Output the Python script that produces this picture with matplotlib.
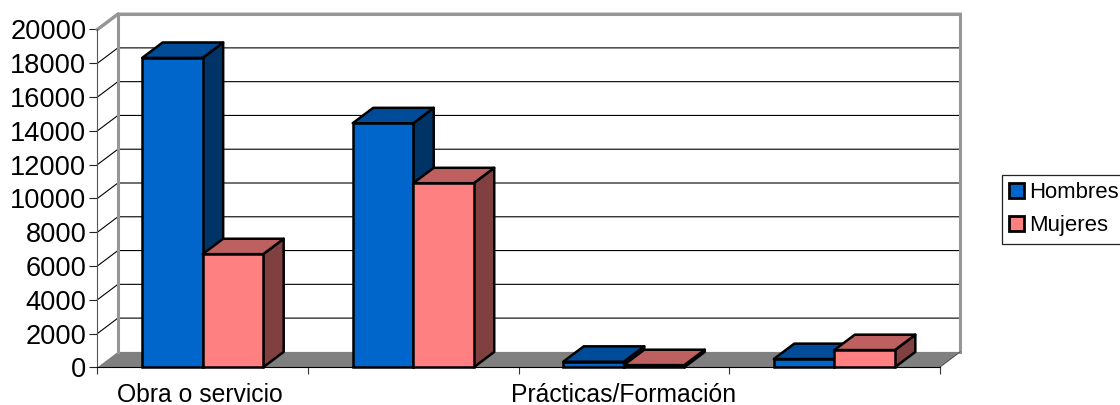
import matplotlib
matplotlib.use("Agg")
import matplotlib.pyplot as plt
from matplotlib.patches import Patch, Polygon
from matplotlib.lines import Line2D
from matplotlib.transforms import Affine2D

plt.rcParams['font.family'] = ['Liberation Sans', 'DejaVu Sans']

categories = ["Obra o servicio", "", "Prácticas/Formación", ""]
hombres = [18320, 14450, 330, 490]
mujeres = [6700, 10900, 130, 1020]
yticks = [0, 2000, 4000, 6000, 8000, 10000, 12000, 14000, 16000, 18000, 20000]
series_names = ["Hombres", "Mujeres"]

W, H = 1120, 405
fig = plt.figure(figsize=(W / 100, H / 100), dpi=100)
L, R, T, B = 97.4, 939.6, 29.5, 367.3
ax = fig.add_axes([L / W, 1 - B / H, (R - L) / W, (B - T) / H])
ax.set_xlim(0, len(categories))
ax.set_ylim(0, yticks[-1])

# Pseudo-3D depth, in data units
DX = 20.5 / ((R - L) / len(categories))
DY = 15.4 / ((B - T) / yticks[-1])
BW = 0.2874

ymax = yticks[-1]
n = len(categories)
wall = '#969696'
# floor
ax.add_patch(Polygon([(0, 0), (n, 0), (n + DX, DY), (DX, DY)], closed=True, fc='#808080',
                     ec='none', clip_on=False, zorder=1))
# grid
for v in yticks[1:]:
    ax.add_line(Line2D([0, DX, n + DX], [v, v + DY, v + DY], color='black' if v != ymax else wall,
                       lw=0.8 if v != ymax else 2.2, clip_on=False, zorder=1.5))
# walls
ax.add_line(Line2D([DX, DX, n + DX, n + DX], [DY, ymax + DY, ymax + DY, DY],
                   color=wall, lw=2.2, clip_on=False, zorder=1.6, solid_joinstyle='miter'))
ax.add_line(Line2D([n + DX, n], [DY, 0], color='#555555', lw=0.8, clip_on=False, zorder=1.7))
ax.add_line(Line2D([0, DX], [ymax, ymax + DY], color=wall, lw=2.2, clip_on=False, zorder=1.7))


def bar3d(x, v, front, top, side, z):
    ec = 'black'
    lw = 1.8
    ax.add_patch(Polygon([(x + BW, 0), (x + BW + DX, DY), (x + BW + DX, v + DY), (x + BW, v)],
                         closed=True, fc=side, ec=ec, lw=lw, clip_on=False, zorder=z,
                         joinstyle='round'))
    ax.add_patch(Polygon([(x, v), (x + BW, v), (x + BW + DX, v + DY), (x + DX, v + DY)],
                         closed=True, fc=top, ec=ec, lw=lw, clip_on=False, zorder=z,
                         joinstyle='round'))
    ax.bar(x, v, width=BW, align='edge', color=front, edgecolor=ec, linewidth=lw,
           clip_on=False, zorder=z + 0.1)


C_H = ('#0066CC', '#004C99', '#003366')
C_M = ('#FF8080', '#BF6060', '#804040')
for i in range(n):
    bar3d(i + 0.5 - BW, hombres[i], *C_H, 3 + i * 2)
    bar3d(i + 0.5, mujeres[i], *C_M, 4 + i * 2)

# axes furniture
for s in ('top', 'right'):
    ax.spines[s].set_visible(False)
ax.spines['left'].set_color('#555555')
ax.spines['left'].set_linewidth(0.8)
ax.spines['left'].set_zorder(2)
ax.spines['bottom'].set_color('black')
ax.spines['bottom'].set_linewidth(0.8)
ax.spines['bottom'].set_zorder(2)
ax.patch.set_alpha(0)

ax.set_yticks(yticks)
ax.set_yticklabels([str(v) for v in yticks], fontsize=19.6)
ax.tick_params(axis='y', length=5.5, width=0.8, pad=2.5, color='#222222')
ax.set_xticks(range(n + 1))
ax.set_xticklabels([''] * (n + 1))
ax.tick_params(axis='x', which='major', length=5, width=0.8, color='#333333')
ax.set_xticks([i + 0.5 for i in range(n)], minor=True)
ax.set_xticklabels(categories, minor=True, fontsize=17.85)
ax.tick_params(axis='x', which='minor', length=0, pad=11)
ax.get_xticklabels(minor=True)[0].set_transform(
    ax.get_xticklabels(minor=True)[0].get_transform() + Affine2D().translate(-3, 0))

handles = [Patch(fc=C_H[0], ec='black', lw=2), Patch(fc=C_M[0], ec='black', lw=2)]
leg = fig.legend(handles, series_names, loc='upper left',
                 bbox_to_anchor=(1002 / W, 1 - 175 / H), borderaxespad=0,
                 fontsize=15.9, fancybox=False, edgecolor='#222222', framealpha=1,
                 handlelength=0.68, handleheight=0.7, handletextpad=0.2,
                 labelspacing=0.55, borderpad=0.33)
leg.get_frame().set_linewidth(0.9)

fig.savefig('out.png', dpi=100)
